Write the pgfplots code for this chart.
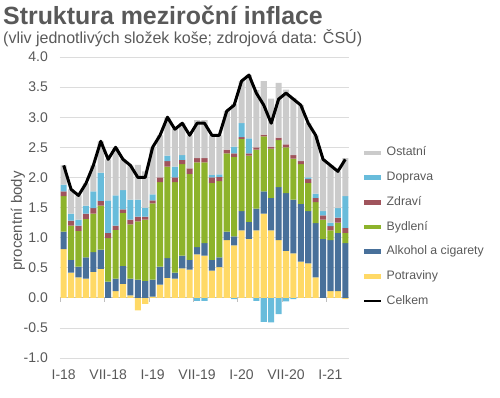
\documentclass[border=0pt]{standalone}
\usepackage{fontspec}
\setmainfont{Liberation Sans}
\usepackage{pgfplots}
\pgfplotsset{compat=1.18}
\usepackage{pgfplotstable}

\definecolor{cP}{HTML}{FFD966}
\definecolor{cA}{HTML}{48709A}
\definecolor{cB}{HTML}{8DB32B}
\definecolor{cZ}{HTML}{A0545C}
\definecolor{cD}{HTML}{68BCDB}
\definecolor{cO}{HTML}{CBCBCB}
\definecolor{textgray}{HTML}{595959}
\definecolor{gridgray}{HTML}{DCDCDC}
\definecolor{zerogray}{HTML}{BFBFBF}

\pgfplotsset{
  swatch legend/.style={
    legend image code/.code={\draw[##1, line cap=butt] (0pt,0pt) -- (17pt,0pt);}
  }
}

% x Pn Dn = negative parts; P A B Z D O = positive parts; T = total
\pgfplotstableread{
x  Pn    Dn    P     A     B     Z     D     O     T
0  0     0     0.81  0.29  0.59  0.08  0.11  0.32  2.2
1  0     0     0.42  0.21  0.57  0.08  0.12  0.40  1.8
2  0     0     0.34  0.18  0.59  0.09  0.10  0.40  1.7
3  0     0     0.32  0.35  0.64  0.09  0.13  0.37  1.9
4  0     0     0.43  0.33  0.64  0.09  0.28  0.43  2.2
5  0     0     0.48  0.32  0.73  0.08  0.47  0.52  2.6
6  0     0     0.00  0.27  0.72  0.09  0.54  0.68  2.3
7  0     0     0.11  0.21  0.81  0.07  0.50  0.80  2.5
8  0     0     0.23  0.30  0.88  0.06  0.32  0.51  2.3
9  0     0     0.04  0.28  0.90  0.08  0.33  0.57  2.2
10 -0.21 0     0.00  0.30  0.97  0.08  0.28  0.58  2.0
11 -0.10 0     0.00  0.28  1.02  0.05  0.15  0.60  2.0
12 0     0     0.02  0.28  1.27  0.05  0.10  0.78  2.5
13 0     0     0.22  0.30  1.40  0.08  0.00  0.70  2.7
14 0     0     0.33  0.33  1.52  0.09  0.09  0.64  3.0
15 0     0     0.32  0.10  1.50  0.08  0.18  0.62  2.8
16 0     0     0.49  0.21  1.52  0.07  0.08  0.53  2.9
17 0     0     0.47  0.16  1.43  0.09  0.00  0.55  2.7
18 0     -0.05 0.72  0.12  1.41  0.07  0.00  0.63  2.9
19 0     -0.05 0.70  0.21  1.34  0.07  0.00  0.63  2.9
20 0     0     0.45  0.18  1.28  0.09  0.04  0.66  2.7
21 0     0     0.51  0.16  1.27  0.07  0.04  0.65  2.7
22 0     0     0.96  0.14  1.30  0.06  0.00  0.64  3.1
23 0     -0.02 0.87  0.15  1.32  0.06  0.11  0.71  3.2
24 0     0     1.12  0.32  1.20  0.03  0.23  0.70  3.6
25 0     0     0.98  0.28  1.10  0.04  0.25  1.05  3.7
26 0     -0.05 1.12  0.36  0.98  0.04  0.00  0.95  3.4
27 0     -0.40 1.40  0.37  0.91  0.03  0.00  0.89  3.2
28 0     -0.41 1.12  0.54  0.82  0.03  0.00  0.80  2.9
29 0     -0.27 0.96  0.88  0.78  0.04  0.00  0.91  3.3
30 0     -0.06 0.78  0.96  0.76  0.05  0.00  0.91  3.4
31 0     -0.02 0.74  0.89  0.68  0.06  0.00  0.95  3.3
32 0     0     0.60  0.96  0.66  0.05  0.00  0.93  3.2
33 0     0     0.57  0.87  0.47  0.06  0.03  0.90  2.9
34 0     0     0.34  0.90  0.35  0.07  0.07  0.97  2.7
35 0     0     0.00  0.98  0.32  0.07  0.07  0.86  2.3
36 0     0     0.11  0.85  0.16  0.07  0.06  0.95  2.2
37 0     0     0.11  0.97  0.17  0.08  0.16  0.61  2.1
38 -0.02 0     0.00  0.91  0.17  0.08  0.53  0.63  2.3
}\datatab

\begin{document}
\begin{tikzpicture}
\useasboundingbox (-60pt,-39pt) rectangle (440pt,358pt);
\begin{axis}[
  at={(0pt,0pt)}, anchor=south west,
  scale only axis, width=289pt, height=301pt,
  xmin=-0.5, xmax=38.5, ymin=-1, ymax=4,
  ybar stacked, bar width=0.82,
  reverse stacked plots=false,
  axis line style={draw=none},
  major tick length=0pt,
  ytick={-1,-0.5,0,0.5,1,1.5,2,2.5,3,3.5,4},
  xtick={0,6,12,18,24,30,36},
  xticklabels={I-18,VII-18,I-19,VII-19,I-20,VII-20,I-21},
  /pgf/number format/assume math mode=true,
  yticklabel style={/pgf/number format/fixed, /pgf/number format/fixed zerofill,
    /pgf/number format/precision=1, inner sep=0pt, anchor=east, xshift=-12pt},
  xticklabel style={inner sep=0pt, anchor=north, yshift=-12pt},
  tick label style={font=\fontsize{14}{16}\selectfont, text=textgray},
  ymajorgrids, grid style={draw=gridgray, line width=0.8pt},
  clip=false,
  legend cell align=left,
  legend style={at={(1.045,0.702)}, anchor=north west, draw=none, fill=none,
    inner sep=0pt, row sep=12.7pt, font=\fontsize{12.3}{14}\selectfont, text=textgray,
    nodes={inner sep=0pt, text height=9pt, text depth=3pt},
    /tikz/every odd column/.append style={column sep=3pt}},
]
\draw[zerogray, line width=0.8pt] (axis cs:-0.5,0) -- (axis cs:38.5,0);
\draw[zerogray, line width=0.8pt]
  (axis cs:-0.5,0) -- ++(0pt,-4pt) (axis cs:5.5,0) -- ++(0pt,-4pt)
  (axis cs:11.5,0) -- ++(0pt,-4pt) (axis cs:17.5,0) -- ++(0pt,-4pt)
  (axis cs:23.5,0) -- ++(0pt,-4pt) (axis cs:29.5,0) -- ++(0pt,-4pt)
  (axis cs:35.5,0) -- ++(0pt,-4pt);

\addplot[fill=cP, draw=none, forget plot] table[x=x, y=Pn] {\datatab};
\addplot[fill=cD, draw=none, forget plot] table[x=x, y=Dn] {\datatab};
\addplot[fill=cP, draw=none, forget plot] table[x=x, y=P] {\datatab};
\addplot[fill=cA, draw=none, forget plot] table[x=x, y=A] {\datatab};
\addplot[fill=cB, draw=none, forget plot] table[x=x, y=B] {\datatab};
\addplot[fill=cZ, draw=none, forget plot] table[x=x, y=Z] {\datatab};
\addplot[fill=cD, draw=none, forget plot] table[x=x, y=D] {\datatab};
\addplot[fill=cO, draw=none, forget plot] table[x=x, y=O] {\datatab};
\addplot[stack plots=false, sharp plot, no marks, draw=black, line width=3pt,
  line join=round, forget plot] table[x=x, y=T] {\datatab};

\addlegendimage{swatch legend, line width=4.5pt, cO}
\addlegendentry{Ostatní}
\addlegendimage{swatch legend, line width=4.5pt, cD}
\addlegendentry{Doprava}
\addlegendimage{swatch legend, line width=4.5pt, cZ}
\addlegendentry{Zdraví}
\addlegendimage{swatch legend, line width=4.5pt, cB}
\addlegendentry{Bydlení}
\addlegendimage{swatch legend, line width=4.5pt, cA}
\addlegendentry{Alkohol a cigarety}
\addlegendimage{swatch legend, line width=4.5pt, cP}
\addlegendentry{Potraviny}
\addlegendimage{swatch legend, line width=2pt, black}
\addlegendentry{Celkem}
\end{axis}
\node[anchor=base west, inner sep=0pt, text=textgray, font=\bfseries\fontsize{24.9}{28}\selectfont]
  at (-57pt,333pt) {Struktura meziroční inflace};
\node[anchor=base west, inner sep=0pt, text=textgray, font=\fontsize{16}{18}\selectfont]
  at (-57pt,314.5pt) {(vliv jednotlivých složek koše; zdrojová data: ČSÚ)};
\node[rotate=90, inner sep=0pt, text=textgray, font=\fontsize{15}{17}\selectfont]
  at (-42pt,137pt) {procentní body};
\end{tikzpicture}
\end{document}
